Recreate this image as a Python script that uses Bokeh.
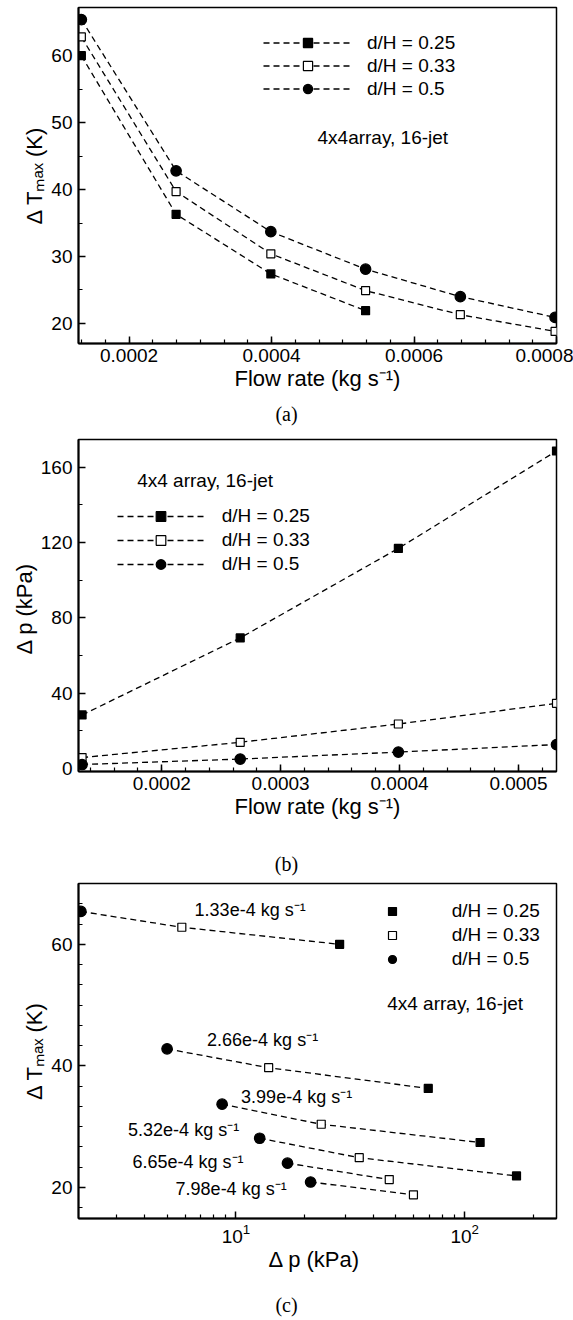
from bokeh.plotting import figure
from bokeh.models import (ColumnDataSource, Legend, LegendItem, Label, Div,
                          SingleIntervalTicker, FixedTicker, PrintfTickFormatter)
from bokeh.layouts import column
from bokeh.embed import file_html
from bokeh.resources import INLINE
from bokeh.core.properties import value

# ---------------- data ----------------
flow_rate = [1.33e-4, 2.66e-4, 3.99e-4, 5.32e-4, 6.65e-4, 7.98e-4]   # kg/s
dT_025 = [60.0, 36.3, 27.4, 21.9]
dT_033 = [62.8, 39.7, 30.4, 24.9, 21.3, 18.8]
dT_050 = [65.4, 42.8, 33.7, 28.1, 24.0, 20.9]
dp_025 = [28.4, 69.3, 116.8, 168.5]
dp_033 = [5.8, 13.9, 23.6, 34.6, 46.8, 59.7]
dp_050 = [2.1, 5.0, 8.7, 12.7, 16.8, 21.2]
series_labels = ["d/H = 0.25", "d/H = 0.33", "d/H = 0.5"]
flow_labels = ["%.2fe-4 kg s\u207b\u00b9" % (f * 1e4) for f in flow_rate]

FONT = "Liberation Sans"
SERIF = "Liberation Serif"
DASH = "6 4"
W = 573


def style(p, xlabel, ylabel):
    p.xaxis.axis_label = xlabel
    p.yaxis.axis_label = ylabel
    for ax in (p.xaxis[0], p.yaxis[0]):
        ax.axis_line_width = 2
        ax.major_tick_in = 7
        ax.major_tick_out = 0
        ax.minor_tick_in = 4
        ax.minor_tick_out = 0
        ax.major_tick_line_width = 1.5
        ax.minor_tick_line_width = 1.2
        ax.major_label_text_font = FONT
        ax.major_label_text_font_size = "19px"
        ax.major_label_text_color = "black"
        ax.axis_label_text_font = FONT
        ax.axis_label_text_font_size = "22px"
        ax.axis_label_text_font_style = "normal"
        ax.axis_label_text_color = "black"
        ax.axis_label_standoff = 1
    p.xaxis.major_label_standoff = 5
    p.yaxis.major_label_standoff = 6
    p.outline_line_color = "black"
    p.outline_line_width = 1.5
    p.outline_line_alpha = 1
    p.grid.visible = False


def caption(text, h):
    return Div(text=text, width=W, height=h, margin=0,
               styles={"text-align": "center", "font-family": SERIF, "font-size": "20px",
                       "line-height": "%dpx" % h, "color": "black", "width": "%dpx" % W})


def note(p, text, x, y):
    p.add_layout(Label(x=x, y=y, x_units="screen", y_units="screen", text=text,
                       text_font=FONT, text_font_size="19px", text_align="left",
                       text_baseline="middle", text_color="black"))


def legend(p, items, loc, gw, stand, rowh):
    lg = Legend(items=items, location=loc, glyph_width=gw, glyph_height=int(round(rowh)),
                label_height=int(round(rowh)), spacing=0, padding=0, margin=0,
                label_standoff=stand, label_text_font=FONT, label_text_font_size="19px",
                label_text_color="black",
                border_line_alpha=0, background_fill_alpha=0)
    p.add_layout(lg)


markers = [("square", 8, "black"), ("square", 8, "white"), ("circle", 10.5, "black")]

# ---------------- (a) dT vs flow rate ----------------
pa = figure(width=W, height=396, output_backend="svg", toolbar_location=None,
            x_range=(1.29e-4, 8.0e-4), y_range=(17, 67.2),
            min_border_left=78, min_border_right=17, min_border_top=7, min_border_bottom=53)
style(pa, "Flow rate (kg s\u207b\u00b9)", "\u0394 T\u2098\u2090\u2093 (K)")
pa.xaxis.ticker = SingleIntervalTicker(interval=0.0002, num_minor_ticks=6)
pa.xaxis.formatter = PrintfTickFormatter(format="%.4f")
pa.yaxis.ticker = SingleIntervalTicker(interval=10, num_minor_ticks=2)
items = []
for ys, (mk, sz, fc), lab in zip([dT_025, dT_033, dT_050], markers, series_labels):
    xs = flow_rate[:len(ys)]
    rl = pa.line(xs, ys, line_color="black", line_width=1.3, line_dash=DASH)
    rm = pa.scatter(xs, ys, marker=mk, size=sz, fill_color=fc, line_color="black", line_width=1.2)
    items.append(LegendItem(label=lab, renderers=[rl, rm]))
legend(pa, items, (185, 243), 89, 15, 23.3)
note(pa, "4x4array, 16-jet", 239, 206)

# ---------------- (b) dp vs flow rate ----------------
pb = figure(width=W, height=414, output_backend="svg", toolbar_location=None,
            x_range=(1.30e-4, 5.32e-4), y_range=(-1.6, 174.6),
            min_border_left=78, min_border_right=17, min_border_top=7, min_border_bottom=75)
style(pb, "Flow rate (kg s\u207b\u00b9)", "\u0394  p (kPa)")
pb.xaxis.ticker = SingleIntervalTicker(interval=0.0001, num_minor_ticks=5)
pb.xaxis.formatter = PrintfTickFormatter(format="%.4f")
pb.yaxis.ticker = SingleIntervalTicker(interval=40, num_minor_ticks=2)
items = []
for ys, (mk, sz, fc), lab in zip([dp_025, dp_033, dp_050], markers, series_labels):
    xs = flow_rate[:4]
    ys = ys[:4]
    rl = pb.line(xs, ys, line_color="black", line_width=1.3, line_dash=DASH)
    rm = pb.scatter(xs, ys, marker=mk, size=sz, fill_color=fc, line_color="black", line_width=1.2)
    items.append(LegendItem(label=lab, renderers=[rl, rm]))
legend(pb, items, (38.7, 195), 87, 18, 24)
note(pb, "4x4 array, 16-jet", 58.7, 291)

# ---------------- (c) dT vs dp ----------------
pc = figure(width=W, height=408, output_backend="svg", toolbar_location=None,
            x_axis_type="log", x_range=(2.05, 252), y_range=(14.9, 70),
            min_border_left=78, min_border_right=17, min_border_top=1, min_border_bottom=72)
style(pc, "\u0394  p (kPa)", "\u0394 T\u2098\u2090\u2093 (K)")
pc.xaxis.ticker = FixedTicker(ticks=[10, 100],
                              minor_ticks=[2, 3, 4, 5, 6, 7, 8, 9, 20, 30, 40, 50, 60, 70, 80, 90, 200])
pc.yaxis.ticker = SingleIntervalTicker(interval=20, num_minor_ticks=6)

line_xs, line_ys = [], []
for i in range(len(flow_rate)):
    xs = [dp_050[i], dp_033[i]]
    ys = [dT_050[i], dT_033[i]]
    if i < len(dp_025):
        xs.append(dp_025[i])
        ys.append(dT_025[i])
    line_xs.append(xs)
    line_ys.append(ys)
pc.multi_line(line_xs, line_ys, line_color="black", line_width=1.3, line_dash=DASH)

items = []
for xs, ys, (mk, sz, fc), lab in zip([dp_025, dp_033, dp_050], [dT_025, dT_033, dT_050],
                                     markers, series_labels):
    rm = pc.scatter(xs, ys, marker=mk, size=sz, fill_color=fc, line_color="black", line_width=1.2)
    items.append(LegendItem(label=lab, renderers=[rm]))
legend(pc, items, (303.7, 247.5), 20, 50, 23.7)

lab_src = ColumnDataSource(dict(
    x=dp_050, y=dT_050, text=flow_labels,
    dx=[113.7, 40, 19, -131.6, -155, -135],
    dy=[-1.7, -8.5, -7.5, -8.5, -1, 7],
))
pc.text(x="x", y="y", text="text", x_offset="dx", y_offset="dy", source=lab_src,
        text_font=value(FONT), text_font_size="18px", text_align="left",
        text_baseline="middle", text_color="black")
note(pc, "4x4 array, 16-jet", 308.7, 215)

layout = column(pa, caption("(a)", 36), pb, caption("(b)", 36), pc, caption("(c)", 30),
                spacing=0)
open("out.html", "w").write(file_html(layout, INLINE))
